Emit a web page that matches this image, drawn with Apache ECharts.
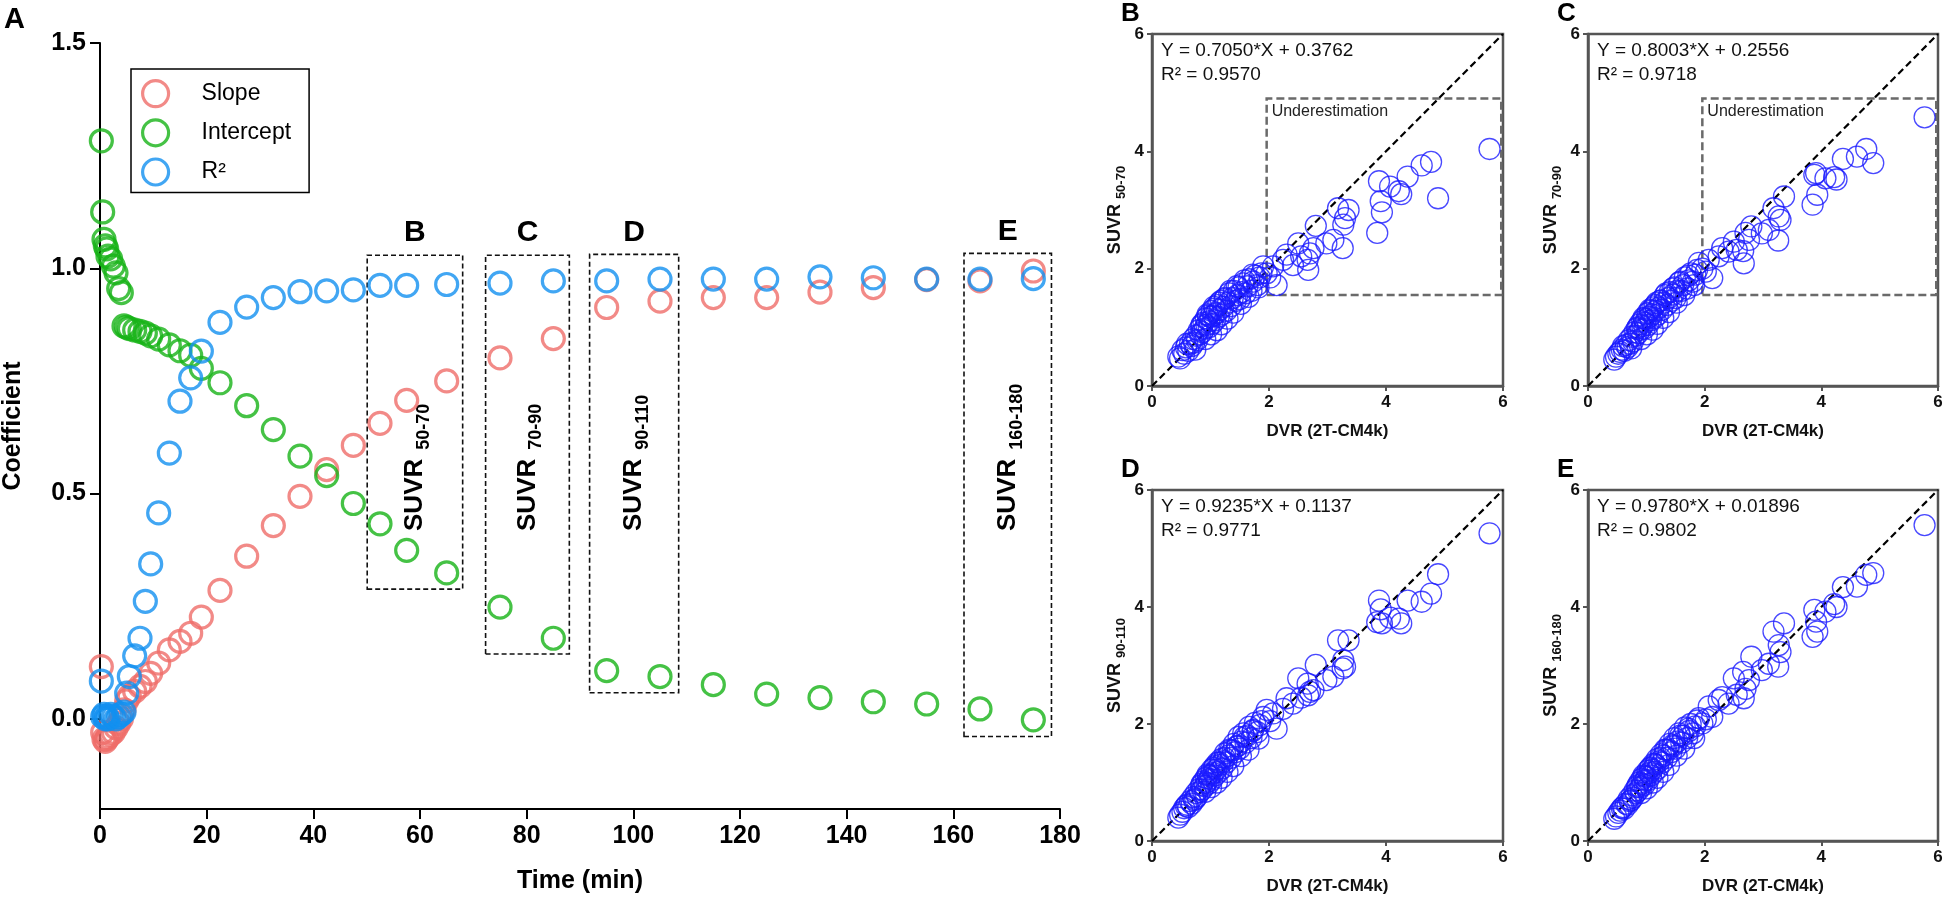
<!DOCTYPE html>
<html><head><meta charset="utf-8">
<script src="https://cdn.jsdelivr.net/npm/echarts@6/dist/echarts.min.js"></script>
<style>html,body{margin:0;padding:0;background:#fff}#c{width:1946px;height:901px}</style>
</head><body><div id="c"></div>
<script>
const FONT = '"Liberation Sans", Arial, Helvetica, sans-serif';

// ---------- Panel A data ----------
const timeMin = [0.25,0.5,0.75,1,1.25,1.5,2,2.5,3,3.5,4,4.5,5,5.5,6.5,7.5,8.5,9.5,11,13,15,17,19,22.5,27.5,32.5,37.5,42.5,47.5,52.5,57.5,65,75,85,95,105,115,125,135,145,155,165,175];
const slope = [0.116,-0.030,-0.045,-0.050,-0.045,-0.040,-0.035,-0.030,-0.020,-0.010,0.000,0.020,0.040,0.050,0.061,0.072,0.083,0.101,0.124,0.153,0.172,0.190,0.226,0.285,0.361,0.429,0.494,0.553,0.607,0.656,0.707,0.750,0.801,0.844,0.913,0.927,0.935,0.935,0.947,0.957,0.975,0.972,0.994];
const intercept = [1.283,1.125,1.064,1.050,1.043,1.027,1.021,1.005,0.990,0.955,0.946,0.872,0.869,0.866,0.863,0.860,0.856,0.850,0.843,0.830,0.817,0.807,0.778,0.746,0.695,0.642,0.583,0.540,0.478,0.433,0.374,0.324,0.248,0.179,0.107,0.094,0.076,0.055,0.047,0.038,0.033,0.022,-0.002];
const rSquared = [0.084,0.005,0.010,0.000,0.005,0.000,0.010,0.005,0.000,0.005,0.010,0.015,0.057,0.094,0.140,0.179,0.261,0.344,0.457,0.590,0.705,0.757,0.816,0.880,0.914,0.935,0.948,0.950,0.952,0.962,0.962,0.964,0.967,0.972,0.972,0.976,0.976,0.976,0.981,0.979,0.976,0.976,0.977];
const yTicksA = [0, 0.5, 1.0, 1.5];
const seriesNamesA = ['Slope', 'Intercept', 'R\u00b2'];
// time windows highlighted in panel A: [tStart, tEnd, yLow, yHigh]
const boxLetters = ['B', 'C', 'D', 'E'];
const boxRanges = [[50.1,68.0,0.288,1.029],[72.3,88.0,0.144,1.029],[91.8,108.5,0.058,1.031],[162.0,178.4,-0.039,1.033]];
const boxWindows = ['50-70', '70-90', '90-110', '160-180'];

// ---------- Panels B-E data ----------
const dvr = [5.77,4.89,4.77,4.61,4.37,4.26,4.22,4.07,3.88,3.91,3.93,3.85,3.36,3.18,3.27,3.30,3.26,3.10,2.98,2.80,2.76,2.67,2.66,2.70,2.50,2.41,2.55,2.30,2.24,2.13,2.07,1.96,1.90,2.02,
 0.45,0.48,0.52,0.55,0.58,0.62,0.65,0.68,0.70,0.72,0.75,0.77,0.80,0.82,0.84,0.86,0.88,0.90,0.92,0.93,0.95,0.97,0.98,1.00,1.02,1.03,1.05,1.07,1.08,1.10,1.12,1.14,1.16,1.18,1.20,1.22,1.25,1.27,1.30,1.32,1.35,1.38,1.40,1.43,1.46,1.48,1.50,1.53,1.56,1.60,1.63,1.66,1.70,1.73,1.76,1.80,1.84,1.87,
 0.60,0.74,0.85,0.91,0.96,1.01,1.06,1.11,1.15,1.19,1.24,1.29,1.34,1.39,1.45,1.52,1.58,1.65,1.72,1.82];
const suvr50_70 = [4.04,3.20,3.82,3.76,3.57,3.27,3.32,3.40,3.49,3.15,2.96,2.61,3.00,3.03,2.75,2.86,2.35,2.49,2.43,2.73,2.35,1.98,2.15,2.26,2.43,2.06,2.21,2.24,2.15,1.72,2.04,1.92,2.04,1.85,
 0.50,0.47,0.61,0.55,0.66,0.60,0.72,0.68,0.80,0.74,0.86,0.78,0.95,0.88,1.02,0.92,1.08,0.98,1.15,1.04,1.22,1.00,1.10,1.18,1.28,1.06,1.20,1.32,1.12,1.24,1.38,1.18,1.30,1.45,1.22,1.35,1.50,1.28,1.42,1.58,1.36,1.50,1.62,1.45,1.55,1.68,1.48,1.60,1.75,1.58,1.70,1.82,1.62,1.78,1.88,1.72,1.85,1.92,
 0.72,0.62,1.05,0.80,1.20,0.88,1.35,0.95,1.42,1.05,1.48,1.15,1.62,1.25,1.70,1.40,1.80,1.52,1.90,1.68];
const suvr70_90 = [4.58,3.80,4.04,3.91,3.87,3.52,3.56,3.54,3.60,3.63,3.26,3.09,3.23,3.03,2.89,2.83,2.48,2.66,2.60,2.72,2.49,2.09,2.30,2.61,2.46,2.29,2.32,2.35,2.21,1.84,2.15,2.00,2.10,1.95,
 0.45,0.50,0.55,0.58,0.62,0.60,0.70,0.66,0.78,0.72,0.84,0.76,0.92,0.86,0.98,0.90,1.05,0.96,1.10,1.02,1.16,0.98,1.08,1.14,1.24,1.04,1.18,1.28,1.12,1.22,1.34,1.16,1.28,1.42,1.22,1.34,1.46,1.30,1.42,1.55,1.38,1.50,1.60,1.45,1.56,1.68,1.50,1.62,1.76,1.62,1.72,1.85,1.66,1.80,1.92,1.78,1.90,1.98,
 0.68,0.64,1.00,0.80,1.15,0.88,1.30,0.96,1.38,1.06,1.45,1.16,1.58,1.26,1.66,1.42,1.78,1.55,1.88,1.72];
const suvr90_110 = [5.26,4.56,4.23,4.09,4.11,3.72,3.80,3.82,4.11,3.96,3.72,3.74,3.43,3.43,3.09,2.98,2.95,2.81,2.75,3.01,2.58,2.49,2.69,2.55,2.78,2.35,2.45,2.44,2.26,1.92,2.18,2.24,2.12,2.05,
 0.40,0.45,0.50,0.56,0.60,0.58,0.68,0.64,0.75,0.70,0.82,0.76,0.88,0.84,0.95,0.88,1.02,0.94,1.08,1.00,1.14,0.98,1.06,1.12,1.22,1.05,1.16,1.28,1.12,1.22,1.34,1.18,1.30,1.40,1.24,1.36,1.50,1.34,1.46,1.56,1.42,1.55,1.66,1.52,1.62,1.78,1.58,1.70,1.84,1.68,1.80,1.95,1.76,1.90,2.02,1.86,1.98,2.05,
 0.62,0.72,0.98,0.84,1.12,0.92,1.25,1.00,1.34,1.08,1.42,1.18,1.55,1.28,1.62,1.45,1.78,1.56,1.88,1.75];
const suvr160_180 = [5.40,4.58,4.55,4.35,4.34,4.00,4.05,3.92,3.95,3.75,3.58,3.49,3.72,3.58,3.35,3.23,2.98,3.03,2.92,3.15,2.75,2.44,2.89,2.60,2.78,2.35,2.50,2.46,2.41,2.12,2.30,2.01,2.10,2.08,
 0.38,0.42,0.48,0.52,0.56,0.55,0.64,0.62,0.72,0.68,0.78,0.74,0.86,0.82,0.92,0.86,1.00,0.92,1.06,0.98,1.12,0.96,1.04,1.10,1.20,1.04,1.16,1.26,1.12,1.22,1.32,1.18,1.30,1.40,1.24,1.36,1.48,1.34,1.46,1.56,1.42,1.56,1.66,1.52,1.62,1.76,1.58,1.70,1.84,1.68,1.80,1.94,1.76,1.88,2.00,1.84,1.96,2.06,
 0.58,0.70,0.95,0.82,1.10,0.90,1.24,1.00,1.32,1.08,1.42,1.18,1.56,1.30,1.64,1.46,1.80,1.58,1.92,1.76];
const identityLine = [[0, 0], [6, 6]];
const panelLetters = ['B', 'C', 'D', 'E'];
const panelWindows = ['50-70', '70-90', '90-110', '160-180'];
const panelSuvr = [suvr50_70, suvr70_90, suvr90_110, suvr160_180];
const fitEquations = ['Y = 0.7050*X + 0.3762', 'Y = 0.8003*X + 0.2556', 'Y = 0.9235*X + 0.1137', 'Y = 0.9780*X + 0.01896'];
const fitR2 = ['0.9570', '0.9718', '0.9771', '0.9802'];
const showUnderestimation = [true, true, false, false];
// underestimation region [xMin, yMin, xMax, yMax]
const underRegion = [1.96, 1.55, 5.97, 4.90];

// ---------- styling ----------
const colorsA = ['#ef6d69', '#17b317', '#1190f0'];
const scatterBlue = '#1a1aff';
const frameGray = '#555';

const chart = echarts.init(document.getElementById('c'));

const grids = [
  {left: 100, top: 43, width: 960, height: 766},
  {left: 1152, top: 34, width: 351, height: 352},
  {left: 1588, top: 34, width: 350, height: 352},
  {left: 1152, top: 490, width: 351, height: 351},
  {left: 1588, top: 490, width: 350, height: 351}
].map((g, i) => Object.assign(g, {
  show: i > 0, borderColor: frameGray, borderWidth: 2.5, backgroundColor: 'transparent',
  outerBoundsMode: 'none', containLabel: false
}));

const xAxes = [{
  gridIndex: 0, type: 'value', min: 0, max: 180, interval: 20,
  axisLine: {onZero: false, lineStyle: {color: '#000', width: 2}},
  axisTick: {length: 10, lineStyle: {color: '#000', width: 2}},
  axisLabel: {fontSize: 25, fontWeight: 'bold', color: '#000', margin: 15, fontFamily: FONT},
  splitLine: {show: false},
  name: 'Time (min)', nameLocation: 'middle', nameGap: 60,
  nameTextStyle: {fontSize: 25, fontWeight: 'bold', color: '#000', fontFamily: FONT}
}];
const yAxes = [{
  gridIndex: 0, type: 'value', min: -0.2, max: 1.5,
  axisLine: {onZero: false, lineStyle: {color: '#000', width: 2}},
  axisTick: {length: 10, customValues: yTicksA, lineStyle: {color: '#000', width: 2}},
  axisLabel: {customValues: yTicksA, formatter: v => v.toFixed(1), fontSize: 25, fontWeight: 'bold', color: '#000', margin: 14, fontFamily: FONT},
  splitLine: {show: false},
  name: 'Coefficient', nameLocation: 'middle', nameGap: 74,
  nameTextStyle: {fontSize: 25, fontWeight: 'bold', color: '#000', fontFamily: FONT}
}];

for (let i = 0; i < 4; i++) {
  const common = {
    gridIndex: i + 1, type: 'value', min: 0, max: 6, interval: 2,
    axisLine: {onZero: false, lineStyle: {color: frameGray, width: 2.5}},
    axisTick: {length: 5, lineStyle: {color: frameGray, width: 2}},
    axisLabel: {fontSize: 17, fontWeight: 'bold', color: '#111', margin: 8, fontFamily: FONT},
    splitLine: {show: false}
  };
  xAxes.push(Object.assign({}, common, {
    name: 'DVR (2T-CM4k)', nameLocation: 'middle', nameGap: 37,
    nameTextStyle: {fontSize: 17, fontWeight: 'bold', color: '#111', fontFamily: FONT}
  }));
  yAxes.push(Object.assign({}, common, {
    name: '{m|SUVR}{s|' + panelWindows[i] + '}', nameLocation: 'middle', nameGap: 24,
    nameTextStyle: {
      color: '#111', fontFamily: FONT,
      rich: {
        m: {fontSize: 18, fontWeight: 'bold', color: '#111', fontFamily: FONT},
        s: {fontSize: 13, fontWeight: 'bold', color: '#111', fontFamily: FONT, padding: [13, 0, 0, 5]}
      }
    }
  }));
}

const series = [];
const seriesA = [slope, intercept, rSquared];
seriesA.forEach((vals, k) => {
  const s = {
    name: seriesNamesA[k], type: 'scatter', xAxisIndex: 0, yAxisIndex: 0,
    symbol: 'circle', symbolSize: 22,
    itemStyle: {color: 'rgba(0,0,0,0)', borderColor: colorsA[k], borderWidth: 3.2},
    data: timeMin.map((t, j) => [t, vals[j]]),
    z: 3 + k
  };
  if (k === 0) {
    s.markArea = {
      silent: true,
      itemStyle: {color: 'rgba(0,0,0,0)', borderColor: '#111', borderWidth: 1.6, borderType: [5, 3]},
      data: boxRanges.map(b => [{xAxis: b[0], yAxis: b[2]}, {xAxis: b[1], yAxis: b[3]}])
    };
  }
  series.push(s);
});

for (let i = 0; i < 4; i++) {
  series.push({
    type: 'line', xAxisIndex: i + 1, yAxisIndex: i + 1, data: identityLine,
    symbol: 'none', silent: true,
    lineStyle: {color: '#000', width: 2.2, type: [7, 4]}, z: 2
  });
  const sc = {
    type: 'scatter', xAxisIndex: i + 1, yAxisIndex: i + 1,
    symbol: 'circle', symbolSize: 21,
    itemStyle: {color: 'rgba(0,0,0,0)', borderColor: scatterBlue, borderWidth: 1.3},
    data: dvr.map((x, j) => [x, panelSuvr[i][j]]),
    z: 3
  };
  if (showUnderestimation[i]) {
    sc.markArea = {
      silent: true,
      itemStyle: {color: 'rgba(0,0,0,0)', borderColor: '#6a6a6a', borderWidth: 2.5, borderType: [8, 4]},
      label: {show: false},
      data: [[{xAxis: underRegion[0], yAxis: underRegion[1]}, {xAxis: underRegion[2], yAxis: underRegion[3]}]]
    };
  }
  series.push(sc);
}

chart.setOption({
  animation: false,
  backgroundColor: '#fff',
  textStyle: {fontFamily: FONT},
  grid: grids,
  xAxis: xAxes,
  yAxis: yAxes,
  legend: {
    data: seriesNamesA, orient: 'vertical', left: 131, top: 69,
    padding: [10, 18, 6, 10], itemGap: 10, itemWidth: 26, itemHeight: 26,
    borderColor: '#000', borderWidth: 1.5, selectedMode: false,
    itemStyle: {borderWidth: 3.2},
    textStyle: {fontSize: 23, color: '#000', fontFamily: FONT, padding: [0, 0, 0, 28]}
  },
  series: series
});

// ---------- annotations ----------
const graphics = [];
graphics.push({type: 'text', x: 4, y: 20, style: {text: 'A', font: 'bold 29px ' + FONT, fill: '#000', verticalAlign: 'middle'}});
boxRanges.forEach((b, i) => {
  const top = chart.convertToPixel({xAxisIndex: 0, yAxisIndex: 0}, [(b[0] + b[1]) / 2, b[3]]);
  graphics.push({type: 'text', x: top[0], y: top[1] - 22,
    style: {text: boxLetters[i], font: 'bold 30px ' + FONT, fill: '#000', align: 'center', verticalAlign: 'middle'}});
  const anchor = chart.convertToPixel({xAxisIndex: 0, yAxisIndex: 0}, [(b[0] + b[1]) / 2, 0.417]);
  graphics.push({type: 'text', x: anchor[0], y: anchor[1], rotation: Math.PI / 2,
    style: {
      text: '{m|SUVR}{s|' + boxWindows[i] + '}', align: 'left', verticalAlign: 'middle',
      rich: {
        m: {fontSize: 26, fontWeight: 'bold', fontFamily: FONT, fill: '#000'},
        s: {fontSize: 18, fontWeight: 'bold', fontFamily: FONT, fill: '#000', padding: [18, 0, 0, 9]}
      }
    }});
});
for (let i = 0; i < 4; i++) {
  const g = grids[i + 1];
  graphics.push({type: 'text', x: g.left - 31, y: g.top - 20,
    style: {text: panelLetters[i], font: 'bold 26px ' + FONT, fill: '#000', verticalAlign: 'middle'}});
  graphics.push({type: 'text', x: g.left + 9, y: g.top + 17,
    style: {text: fitEquations[i], font: '19px ' + FONT, fill: '#111', verticalAlign: 'middle'}});
  graphics.push({type: 'text', x: g.left + 9, y: g.top + 41,
    style: {text: 'R\u00b2 = ' + fitR2[i], font: '19px ' + FONT, fill: '#111', verticalAlign: 'middle'}});
  if (showUnderestimation[i]) {
    const p = chart.convertToPixel({xAxisIndex: i + 1, yAxisIndex: i + 1}, [underRegion[0], underRegion[3]]);
    graphics.push({type: 'text', x: p[0] + 5, y: p[1] + 13,
      style: {text: 'Underestimation', font: '16px ' + FONT, fill: '#222', verticalAlign: 'middle'}});
  }
}
chart.setOption({graphic: graphics});
</script>
</body></html>
